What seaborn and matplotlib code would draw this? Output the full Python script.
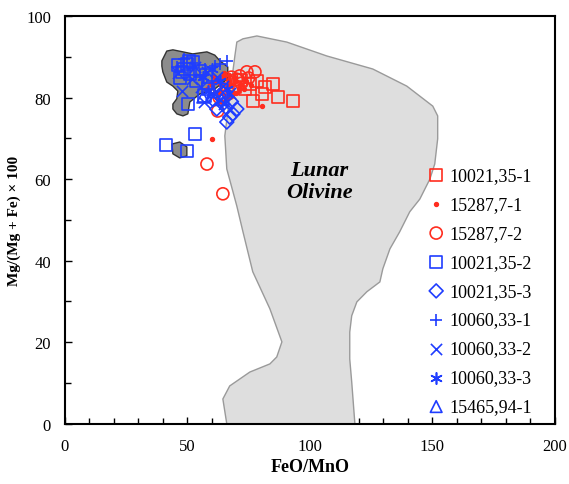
"""FeO/MnO vs Mg# olivine chart with lunar olivine field."""
import matplotlib

matplotlib.use("Agg")
import matplotlib.pyplot as plt
from matplotlib.patches import Polygon
from matplotlib.ticker import MultipleLocator
import pandas as pd
import seaborn as sns

sns.set_theme(style="ticks")
plt.rcParams["font.family"] = ["Liberation Serif", "DejaVu Serif"]
plt.rcParams.update({"text.color": "black", "axes.labelcolor": "black",
                     "xtick.color": "black", "ytick.color": "black"})

RED = "#ff2d1f"
BLUE = "#1f3dff"

# --- lunar olivine field outline (FeO/MnO, Mg#) ---
lunar_x = [70.2, 72.7, 78.4, 90.6, 106.9, 125.7, 139.6, 150.2, 152.2, 152.2,
           151.0, 149.0, 144.9, 140.8, 136.7, 132.7, 129.8, 128.6, 123.3,
           119.2, 117.1, 116.3, 116.3, 117.1, 118.4,
           66.1, 64.5, 67.3, 75.5, 83.7, 86.5, 88.6, 83.7, 76.7, 72.7, 70.2,
           66.1, 65.3, 67.3, 69.4]
lunar_y = [93.6, 94.4, 95.1, 93.6, 90.2, 87.0, 82.8, 77.9, 75.5, 69.9,
           63.7, 60.0, 55.1, 52.0, 47.1, 42.9, 38.0, 34.8, 32.4,
           29.9, 26.5, 22.5, 15.9, 10.3, 0.0,
           0.0, 6.1, 9.3, 12.7, 14.7, 16.4, 20.1, 28.2, 37.3, 47.1, 53.4,
           62.5, 70.6, 80.4, 90.2]

# --- dark grey reference fields ---
blob1_x = [39.6, 41.6, 44.1, 48.2, 52.2, 58.0, 61.2, 63.3, 66.5, 66.5,
           61.2, 55.1, 51.0, 50.2, 48.2, 45.7, 44.1, 44.1, 45.7, 46.1,
           44.1, 41.6, 40.0, 39.6]
blob1_y = [89.0, 91.4, 91.7, 91.2, 90.7, 91.2, 90.4, 89.0, 87.5, 84.6,
           82.1, 80.9, 78.9, 76.0, 75.5, 76.0, 77.2, 78.4, 79.7, 81.6,
           82.8, 83.8, 86.3, 87.7]
blob2_x = [43.7, 46.9, 49.8, 49.8, 46.9, 44.1]
blob2_y = [68.6, 69.1, 67.9, 65.7, 65.2, 66.2]

# --- samples ---
s1_x = [93.1, 86.9, 84.9, 81.6, 80.4, 76.7, 75.5, 73.5, 69.4, 71.8, 66.5, 78.5, 63.5]
s1_y = [79.2, 80.1, 83.3, 82.6, 80.9, 79.2, 83.3, 82.1, 82.6, 84.3, 83.0, 84.0, 82.0]

s2_x = [60.0, 80.4, 58, 60, 62, 63, 64, 65, 66, 67, 68, 69, 70, 71, 72,
        62, 64, 66, 68, 70, 61, 65, 67, 69, 73, 74, 76]
s2_y = [69.9, 77.9, 82, 83, 84, 81, 83, 85, 82, 84, 83, 81, 84, 82, 83,
        80, 79, 80, 80.5, 81, 85, 86, 85.5, 85, 82, 84, 83]

s3_x = [58.0, 64.5, 74.3, 77.6, 71.4, 62.4, 68, 65, 72, 61, 67, 70, 75, 63]
s3_y = [63.7, 56.4, 86.3, 86.3, 85.3, 76.7, 85.0, 84.0, 83.5, 82.5, 81.0, 84.5, 84.8, 80.0]

s4_x = [41.2, 53.1, 49.8, 49.8, 52.2, 47.8, 51.0, 50.2, 47.0, 55.0, 58.5,
        48.5, 53.5, 57.0, 46.0, 50.5]
s4_y = [68.4, 71.1, 66.9, 88.2, 88.7, 86.3, 85.8, 78.4, 84.8, 86.5, 82.0,
        87.0, 84.0, 80.5, 88.0, 89.0]

s5_x = [66.1, 67.3, 68.6, 70.2, 62.0, 64.5, 65.5, 63.0, 68.0, 60.5, 66.0]
s5_y = [74.0, 75.2, 76.0, 77.2, 77.2, 78.4, 80.0, 80.5, 79.0, 79.5, 77.5]

s6_x = [66.1, 45.7, 57.1, 61.2, 52.0, 63.5, 55.0, 48.5, 60.0]
s6_y = [89.0, 87.5, 87.0, 87.7, 88.5, 88.3, 85.5, 89.5, 84.0]

s7_x = [47.8, 51.8, 58.0, 64.5, 62.0, 55.5, 60.5, 67.5, 46.0, 57.0, 65.0, 53.0]
s7_y = [81.6, 84.6, 86.3, 82.8, 85.0, 82.5, 80.5, 81.0, 86.0, 79.0, 78.5, 87.5]

s8_x = [60.0, 63.5, 56.5, 66.0, 58.5]
s8_y = [87.0, 84.0, 85.0, 82.0, 81.5]

s9_x = [56.3, 60.5, 64.0]
s9_y = [80.1, 81.5, 79.5]

# label, x, y, colour, marker, size, open?
series = [
    ("10021,35-1", s1_x, s1_y, RED, "s", 75, True),
    ("15287,7-1", s2_x, s2_y, RED, "o", 7, False),
    ("15287,7-2", s3_x, s3_y, RED, "o", 75, True),
    ("10021,35-2", s4_x, s4_y, BLUE, "s", 75, True),
    ("10021,35-3", s5_x, s5_y, BLUE, "D", 50, True),
    ("10060,33-1", s6_x, s6_y, BLUE, "+", 80, False),
    ("10060,33-2", s7_x, s7_y, BLUE, "x", 65, False),
    ("10060,33-3", s8_x, s8_y, BLUE, (6, 2, 0), 65, False),
    ("15465,94-1", s9_x, s9_y, BLUE, "^", 70, True),
]

fig = plt.figure(figsize=(5.69, 4.85), dpi=100)
ax = fig.add_axes([0.114, 0.124, 0.861, 0.841])

ax.add_patch(Polygon(list(zip(lunar_x, lunar_y)), closed=True,
                     fc="#dedede", ec="#9a9a9a", lw=1.0, zorder=1))
for bx, by in [(blob1_x, blob1_y), (blob2_x, blob2_y)]:
    ax.add_patch(Polygon(list(zip(bx, by)), closed=True, joinstyle="round",
                         fc="#8c8c8c", ec="#333333", lw=1.0, zorder=2))

for label, xs, ys, col, mk, s, hollow in series:
    d = pd.DataFrame({"x": xs, "y": ys})
    if hollow:
        sns.scatterplot(data=d, x="x", y="y", marker=mk, s=s, fc="none",
                        ec=col, linewidth=1.2, label=label, ax=ax, zorder=3)
    else:
        sns.scatterplot(data=d, x="x", y="y", marker=mk, s=s, color=col,
                        ec=col, linewidth=1.2, label=label, ax=ax, zorder=3)

ax.text(104, 59.5, "Lunar\nOlivine", ha="center", va="center", color="black",
        fontsize=16, fontweight="bold", fontstyle="italic", linespacing=1.1,
        zorder=4)

ax.set_xlim(0, 200)
ax.set_ylim(0, 100)
ax.xaxis.set_major_locator(MultipleLocator(50))
ax.xaxis.set_minor_locator(MultipleLocator(10))
ax.yaxis.set_major_locator(MultipleLocator(20))
ax.yaxis.set_minor_locator(MultipleLocator(10))
ax.tick_params(which="both", direction="in", color="black", width=1.0,
               labelsize=12, top=False, right=False)
ax.tick_params(which="major", length=5, pad=10)
ax.tick_params(which="minor", length=4)
for sp in ax.spines.values():
    sp.set_visible(True)
    sp.set_color("black")
    sp.set_linewidth(1.5)

ax.set_xlabel("FeO/MnO", fontsize=13, fontweight="bold", labelpad=3)
ax.set_ylabel("Mg/(Mg + Fe) × 100", fontsize=11, fontweight="bold", labelpad=4)

leg = ax.legend(loc="lower right", bbox_to_anchor=(0.98, -0.01), frameon=False,
                fontsize=13, handletextpad=0.05, labelspacing=0.66,
                handlelength=1.4, borderaxespad=0.3)

fig.savefig("out.png", dpi=100)
plt.close(fig)
